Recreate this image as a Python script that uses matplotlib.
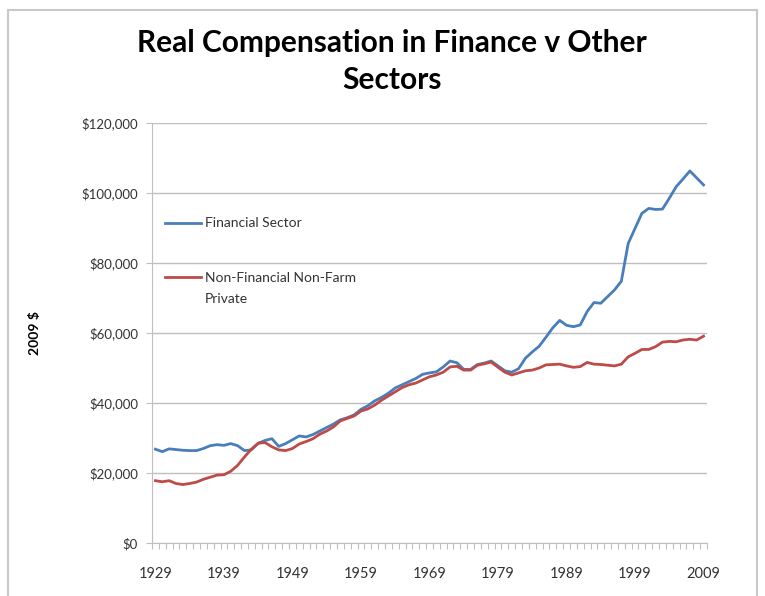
import matplotlib.pyplot as plt
from matplotlib.patches import Rectangle
from matplotlib.ticker import FuncFormatter

years = list(range(1929, 2010))

financial = [
    26.8, 26.1, 26.9, 26.7, 26.5, 26.4, 26.4, 27.0, 27.8, 28.1,  # 1929-1938
    27.9, 28.4, 27.8, 26.4, 26.6, 28.5, 29.3, 29.8, 27.6, 28.4,  # 1939-1948
    29.5, 30.6, 30.3, 31.0, 32.0, 33.0, 34.0, 35.2, 35.8, 36.6,  # 1949-1958
    38.2, 39.2, 40.6, 41.6, 42.8, 44.3, 45.2, 46.1, 47.0, 48.2,  # 1959-1968
    48.6, 48.9, 50.3, 52.0, 51.5, 49.6, 49.6, 51.0, 51.4, 52.0,  # 1969-1978
    50.6, 49.2, 48.8, 49.8, 52.8, 54.6, 56.2, 58.8, 61.5, 63.6,  # 1979-1988
    62.2, 61.8, 62.3, 66.1, 68.7, 68.5, 70.4, 72.3, 74.8, 85.6,  # 1989-1998
    89.9, 94.2, 95.6, 95.3, 95.4, 98.5, 101.8, 104.0, 106.3, 104.3,  # 1999-2008
    102.3,  # 2009
]

non_financial = [
    17.8, 17.5, 17.8, 17.0, 16.7, 17.0, 17.4, 18.2, 18.8, 19.4,  # 1929-1938
    19.5, 20.5, 22.2, 24.6, 26.8, 28.5, 28.7, 27.5, 26.6, 26.4,  # 1939-1948
    27.0, 28.3, 29.0, 29.8, 31.1, 32.0, 33.2, 34.9, 35.6, 36.3,  # 1949-1958
    37.7, 38.3, 39.4, 40.8, 42.0, 43.2, 44.4, 45.2, 45.7, 46.6,  # 1959-1968
    47.5, 48.0, 48.8, 50.3, 50.5, 49.4, 49.4, 50.8, 51.2, 51.7,  # 1969-1978
    50.2, 48.8, 48.0, 48.6, 49.2, 49.4, 50.0, 50.9, 51.0, 51.1,  # 1979-1988
    50.6, 50.2, 50.4, 51.6, 51.1, 51.0, 50.8, 50.6, 51.1, 53.2,  # 1989-1998
    54.2, 55.3, 55.3, 56.1, 57.4, 57.6, 57.5, 58.0, 58.2, 58.0,  # 1999-2008
    59.1,  # 2009
]

label_years = [1929, 1939, 1949, 1959, 1969, 1979, 1989, 1999, 2009]
y_ticks = [0, 20000, 40000, 60000, 80000, 100000, 120000]

blue = '#4A7EBB'
red = '#BE4B48'
grid_col = '#BFBFBF'
txt_col = '#333333'

plt.rcParams['font.family'] = ['Lato', 'DejaVu Sans']

fig = plt.figure(figsize=(7.65, 5.96), dpi=100)
ax = fig.add_axes([152 / 765, 1 - 543 / 596, 555 / 765, 420 / 596])

ax.plot(years, [v * 1000 for v in financial], color=blue, lw=2.0,
        label='Financial Sector', solid_joinstyle='round')
ax.plot(years, [v * 1000 for v in non_financial], color=red, lw=2.0,
        label='Non-Financial Non-Farm', solid_joinstyle='round')

ax.set_xlim(1928.5, 2009.5)
ax.set_ylim(0, 120000)
ax.set_yticks(y_ticks)
ax.yaxis.set_major_formatter(FuncFormatter(lambda v, p: '${:,.0f}'.format(v)))
ax.set_xticks(label_years)
ax.set_xticks([y - 0.5 for y in years + [2010]], minor=True)

ax.tick_params(axis='x', which='major', length=0, pad=17, labelsize=10.5,
               labelcolor=txt_col)
ax.tick_params(axis='x', which='minor', length=4, width=0.8, color=grid_col)
ax.tick_params(axis='y', length=4, width=0.8, color=grid_col, labelsize=9.5,
               labelcolor=txt_col, pad=6)

ax.grid(axis='y', color=grid_col, lw=1.0)
ax.set_axisbelow(True)
for s in ['top', 'right']:
    ax.spines[s].set_visible(False)
ax.spines['left'].set_color(grid_col)
ax.spines['bottom'].set_color(grid_col)

ax.set_ylabel('2009 $', fontsize=10, fontweight='bold', labelpad=29)

leg = ax.legend(loc='upper left', bbox_to_anchor=(0.0, 0.805), frameon=False,
                fontsize=10, handlelength=2.6, handletextpad=0.3,
                labelspacing=3.05)
for t in leg.get_texts():
    t.set_color(txt_col)

# second line of the wrapped legend label, placed under the first
fig.canvas.draw()
bb = leg.get_texts()[1].get_window_extent()
x0, y0 = fig.transFigure.inverted().transform((bb.x0, bb.y0))
fig.text(x0, y0 - 21 / 596, 'Private', fontsize=10, color=txt_col,
         ha='left', va='bottom')

fig.text(392 / 765, 1 - 43 / 596, 'Real Compensation in Finance v Other',
         ha='center', va='center', fontsize=21.5, fontweight='bold')
fig.text(392 / 765, 1 - 80 / 596, 'Sectors',
         ha='center', va='center', fontsize=21.5, fontweight='bold')

fig.patches.append(Rectangle((8 / 765, -0.02), 749 / 765, 1 - 10 / 596 + 0.02,
                             transform=fig.transFigure, fill=False,
                             edgecolor='#C8C8C8', lw=1.5))

fig.savefig('out.png', dpi=100)
